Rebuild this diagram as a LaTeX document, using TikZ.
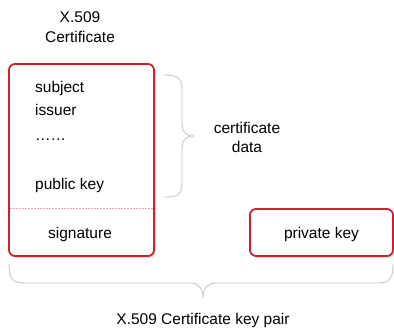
\documentclass[tikz,border=0pt]{standalone}
\usepackage{fontspec}
\setmainfont{Liberation Sans}
\begin{document}
\begin{tikzpicture}[x=1pt,y=-1pt,
  font=\fontsize{15.5}{18}\selectfont,
  redbox/.style={draw=boxred, line width=1.8pt, rounded corners=6pt},
  shade/.style={fill=black!12, draw=none, rounded corners=6pt},
  brace/.style={draw=black!22, line width=0.9pt},
  lbl/.style={inner sep=0pt, anchor=base}]
\definecolor{boxred}{HTML}{CC2229}
\definecolor{divred}{HTML}{F4A6A6}
\useasboundingbox (0,0) rectangle (394,332);

% soft shadows under the boxes
\fill[shade] (11,66) rectangle (156,258);
\fill[shade] (252,211) rectangle (395,258);
\fill[white, rounded corners=6pt] (9,64) rectangle (154,256);
\fill[white, rounded corners=6pt] (250,209) rectangle (393,256);

% certificate box and its divider
\draw[redbox] (9,64) rectangle (154,256);
\coordinate (divL) at (10,208);
\coordinate (divR) at (153,208);
\draw[divred, dashed, dash pattern=on 2pt off 1pt, line width=0.5pt] (divL) -- (divR);

% private key box
\node[redbox, minimum width=143pt, minimum height=47pt, inner sep=0pt] (priv) at (321.5,232.5) {};

% texts
\node[lbl] (title1) at (80,23) {X.509};
\node[lbl] (title2) at (80,42) {Certificate};
\node[lbl, anchor=base west] (subj) at (35,92) {subject};
\node[lbl, anchor=base west] (iss) at (35,115) {issuer};
\node[lbl, anchor=base west] (dots) at (35,140) {……};
\node[lbl, anchor=base west] (pub) at (35,189) {public key};
\node[lbl] (sig) at (80,238) {signature};
\node[lbl] (privtxt) at (321.5,238) {private key};
\node[lbl] (cd1) at (247,133) {certificate};
\node[lbl] (cd2) at (247,152) {data};
\node[lbl] (pair) at (203,324) {X.509 Certificate key pair};

% right brace for the certificate data
\coordinate (rbTop) at (164,75);
\coordinate (rbTip) at (194,136);
\coordinate (rbBot) at (164,197);
\draw[brace] (rbTop) .. controls (178,75) and (182,78) .. (182,90)
  -- (182,122) .. controls (182,133) and (186,136) .. (rbTip)
  .. controls (186,136) and (182,139) .. (182,150)
  -- (182,183) .. controls (182,195) and (178,197) .. (rbBot);

% bottom brace for the key pair
\coordinate (bbL) at (9,264);
\coordinate (bbTip) at (203,298);
\coordinate (bbR) at (393,264);
\draw[brace] (bbL) .. controls (9,278) and (12,283) .. (24,283)
  -- (190,283) .. controls (198,283) and (203,288) .. (bbTip)
  .. controls (203,288) and (208,283) .. (216,283)
  -- (378,283) .. controls (390,283) and (393,278) .. (bbR);
\end{tikzpicture}
\end{document}
